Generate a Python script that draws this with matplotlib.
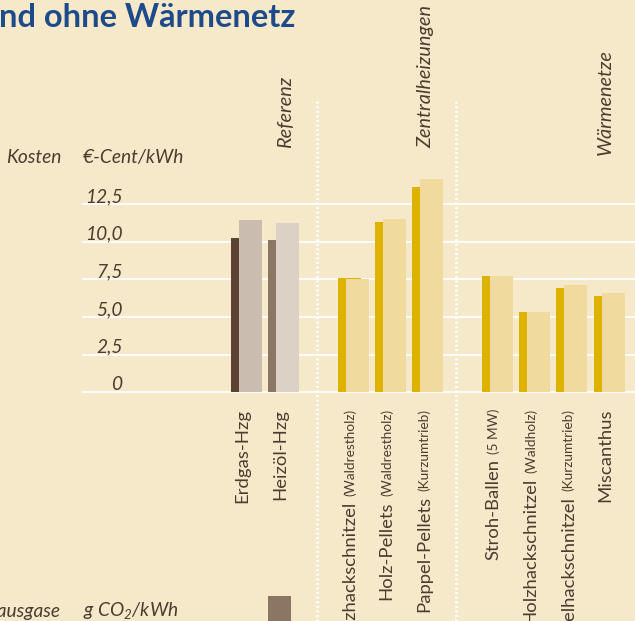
import matplotlib.pyplot as plt
import numpy as np

plt.rcParams['font.family'] = ['Lato', 'DejaVu Sans']

W, H = 635, 621

# Daten
kategorien = ['Erdgas-Hzg', 'Heizöl-Hzg', 'Holzhackschnitzel', 'Holz-Pellets', 'Pappel-Pellets',
              'Stroh-Ballen', 'Holzhackschnitzel', 'Pappelhackschnitzel', 'Miscanthus']
zusatz = ['', '', '(Waldrestholz)', '(Waldrestholz)', '(Kurzumtrieb)',
          '(5 MW)', '(Waldholz)', '(Kurzumtrieb)', '']
gruppe = [0, 0, 1, 1, 1, 2, 2, 2, 2]
gruppen = ['Referenz', 'Zentralheizungen', 'Wärmenetze']
kosten_dunkel = [10.25, 10.1, 7.6, 11.3, 13.6, 7.7, 5.35, 6.95, 6.4]
kosten_hell = [11.45, 11.25, 7.5, 11.5, 14.15, 7.7, 5.35, 7.15, 6.6]
co2 = [250, 320]  # nur Referenz-Balken sichtbar
y_ticks = [0, 2.5, 5.0, 7.5, 10.0, 12.5]
y_labels = ['0', '2,5', '5,0', '7,5', '10,0', '12,5']

bg = '#f6e9ca'
txt = '#4a3c30'
blau = '#1d4b8a'
farbe_dunkel = ['#5b4232', '#8a7662'] + ['#deb300'] * 7
farbe_hell = ['#cabcae', '#dcd1c5'] + ['#f1da9e'] * 7


def fx(p):
    return p / W


def fy(p):
    return 1 - p / H


fig = plt.figure(figsize=(W / 100, H / 100), dpi=100, facecolor=bg)
ax = fig.add_axes([0, 0, 1, 1])
ax.set_facecolor(bg)
ax.axis('off')

# Skalen: Pixelraster der Vorlage
x0, slot = 246.5, 37.3
y0, unit = 392.3, 15.06
ax.set_xlim(-x0 / slot, (W - x0) / slot)
ax.set_ylim(-(H - y0) / unit, y0 / unit)

pos = np.arange(len(kategorien)) + 0.86 * np.array(gruppe)
bw = 23 / slot
off = 4 / slot

# Gitterlinien + Beschriftung
for t, lab in zip(y_ticks, y_labels):
    ax.axhline(t, xmin=83 / W, color='white', lw=1.3, zorder=1)
    ax.text(122.5 / W, t + 2 / unit, lab, transform=ax.get_yaxis_transform(),
            ha='right', va='baseline', style='italic', fontsize=13.8, color=txt)

ax.bar(pos - off, kosten_dunkel, bw, color=farbe_dunkel, zorder=2)
ax.bar(pos + off, kosten_hell, bw, color=farbe_hell, zorder=3)

# Trennlinien
for sx in [1.88, 5.62]:
    ax.axvline(sx, ymin=0, ymax=fy(101), color='white', lw=2.2,
               ls=(0, (0.6, 0.9)), zorder=4)

# Kategorie-Beschriftungen (senkrecht)
renderer = fig.canvas.get_renderer()
y_top = -(409 - y0) / unit
for i, (kat, zu) in enumerate(zip(kategorien, zusatz)):
    x = pos[i] + 1 / slot
    y = y_top
    if zu:
        t = ax.text(x, y, zu, rotation=90, rotation_mode='anchor', ha='right',
                    va='baseline', fontsize=9.8, color=txt)
        h = t.get_window_extent(renderer).height
        y = y - (h + 5) / unit
    ax.text(x, y, kat, rotation=90, rotation_mode='anchor', ha='right',
            va='baseline', fontsize=13.3, color=txt)

# Gruppen-Beschriftungen
for g, (gx, gy) in zip(gruppen, [(286, 148), (426, 148), (605, 155)]):
    fig.text(fx(gx), fy(gy), g, rotation=90, rotation_mode='anchor', ha='left',
             va='center', style='italic', fontsize=14.3, color=txt)

# Titel und Achsentitel
fig.text(fx(-1), fy(27), 'nd ohne Wärmenetz', fontsize=23.5, weight='bold',
         color=blau, va='baseline', ha='left')
fig.text(fx(61), fy(163), 'Kosten', ha='right', va='baseline', style='italic',
         fontsize=13.8, color=txt)
fig.text(fx(83), fy(163), '€-Cent/kWh', ha='left', va='baseline', style='italic',
         fontsize=13.8, color=txt)
fig.text(fx(61), fy(617), 'Treibhausgase', ha='right', va='baseline', style='italic',
         fontsize=13.8, color=txt)
fig.text(fx(83), fy(617), r'g CO$_\mathregular{2}$/kWh', ha='left', va='baseline',
         style='italic', fontsize=13.8, color=txt)

# Treibhausgas-Diagramm (beginnt unterhalb)
ax2 = fig.add_axes([0, -200 / H, 1, 425 / H])
ax2.axis('off')
ax2.set_xlim(ax.get_xlim())
ax2.set_ylim(0, 320 * 425 / 225)
ax2.bar(pos[:2] - off, co2, bw, color=farbe_dunkel[:2])

fig.savefig('out.png', dpi=100, facecolor=bg)
